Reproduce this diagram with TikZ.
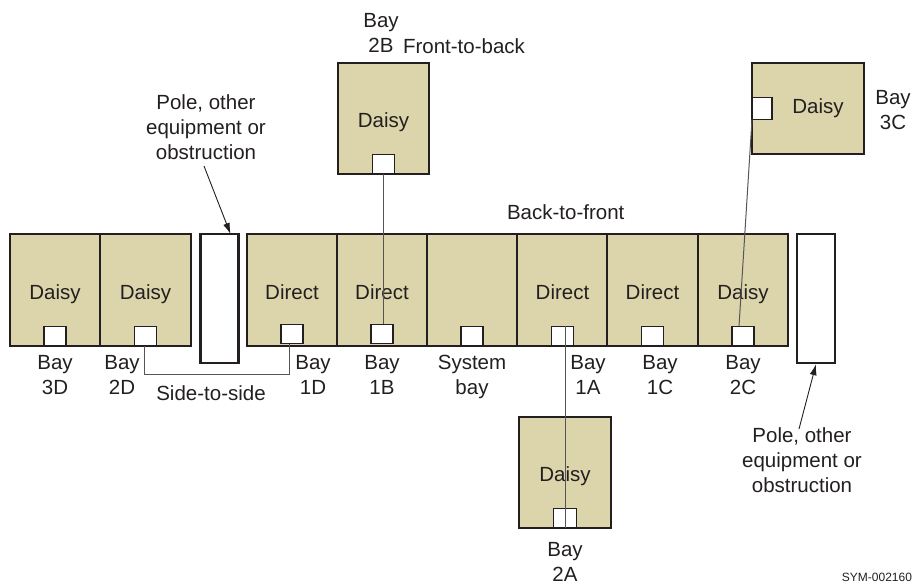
\documentclass[tikz,border=0pt]{standalone}
\usepackage{fontspec}
\setmainfont{Liberation Sans}
\usetikzlibrary{arrows.meta,calc}
\definecolor{bayfill}{RGB}{220,213,172}
\definecolor{edge}{RGB}{35,31,32}
\definecolor{linkgray}{RGB}{85,85,85}
\begin{document}
\begin{tikzpicture}[x=1pt,y=-1pt,
  every node/.style={inner sep=0pt, outer sep=0pt},
  txt/.style={font=\fontsize{20.5}{25}\selectfont, text=edge, align=center},
  bay/.style={draw=edge, line width=2pt, fill=bayfill, minimum width=90.5pt, minimum height=111.5pt,
    font=\fontsize{20.5}{25}\selectfont, text=edge, text height=18.8pt, text depth=0pt},
  port/.style={draw=edge, line width=1.3pt, fill=white, minimum width=22pt, minimum height=19.5pt},
  obst/.style={draw=edge, line width=2.4pt, fill=white, minimum width=38pt, minimum height=129pt},
  link/.style={draw=linkgray, line width=1pt},
  pointer/.style={draw=edge, line width=0.9pt, -{Latex[length=11pt,width=7pt]}}
]
\useasboundingbox (0,0) rectangle (913,584);

% main row of bays
\node[bay] (b3D) at (55,290) {Daisy};
\node[bay] (b2D) at (145.5,290) {Daisy};
\node[obst] (obsL) at (219.5,298.5) {};
\node[bay] (b1D) at (292,290) {Direct};
\node[bay] (b1B) at (382,290) {Direct};
\node[bay] (bSys) at (472,290) {};
\node[bay] (b1A) at (562.5,290) {Direct};
\node[bay] (b1C) at (652.5,290) {Direct};
\node[bay] (b2C) at (743,290) {Daisy};
\node[obst] (obsR) at (816,298.5) {};

% ports
\node[port, anchor=south] (p3D) at (b3D.south) {};
\node[port, anchor=south] (p2D) at (b2D.south) {};
\node[port, anchor=south, yshift=2pt] (p1D) at (b1D.south) {};
\node[port, anchor=south, yshift=2pt] (p1B) at (b1B.south) {};
\node[port, anchor=south] (pSys) at (bSys.south) {};
\node[port, anchor=south] (p1A) at (b1A.south) {};
\node[port, anchor=south] (p1C) at (b1C.south) {};
\node[port, anchor=south] (p2C) at (b2C.south) {};

% detached bays
\node[bay, minimum width=91pt, minimum height=111pt] (b2B) at (383.5,118.5) {Daisy};
\node[port, anchor=south] (p2B) at (b2B.south) {};
\node[bay, minimum width=112pt, minimum height=91pt] (b3C) at (808,108.5) {};
\node[txt] (t3C) at (818,108) {Daisy};
\node[port, minimum width=20pt, minimum height=22pt, anchor=west] (p3C) at (b3C.west) {};
\node[bay, minimum width=92pt, minimum height=111pt] (b2A) at (565,472.5) {Daisy};
\node[port, minimum width=23pt, anchor=south] (p2A) at (b2A.south) {};

% labels
\node[txt] (l3D) at (55,375) {Bay\\3D};
\node[txt] (l2D) at (122,375) {Bay\\2D};
\node[txt] (l1D) at (313,375) {Bay\\1D};
\node[txt] (l1B) at (382,375) {Bay\\1B};
\node[txt] (lSys) at (472,377) {System\\bay};
\node[txt] (l1A) at (588,375) {Bay\\1A};
\node[txt] (l1C) at (660,375) {Bay\\1C};
\node[txt] (l2C) at (743,375) {Bay\\2C};
\node[txt] (l2B) at (381,33) {Bay\\2B};
\node[txt, anchor=west] (fb) at (403,46) {Front-to-back};
\node[txt, anchor=west] (bf) at (507,212) {Back-to-front};
\node[txt] (ss) at (211,393) {Side-to-side};
\node[txt] (l3C) at (893,110) {Bay\\3C};
\node[txt] (l2A) at (565,561.5) {Bay\\2A};
\node[txt] (polL) at (206,127) {Pole, other\\equipment or\\obstruction};
\node[txt] (polR) at (802,460) {Pole, other\\equipment or\\obstruction};
\node[font=\fontsize{12}{14}\selectfont, text=edge, anchor=east] (sym) at (912,577) {SYM-002160};

% connectors
\draw[link] ([xshift=-1.5pt]p2D.south) -- ++(0,29) -| ([xshift=-3pt]p1D.south);
\draw[link] (p2B.south) -- (p2B.south |- p1B.north);
\draw[link] (p3C.south west) -- ([xshift=-4pt]p2C.north);
\draw[link] (p2A.south) -- (p2A.south |- p1A.north);

% pointers
\draw[pointer] ([xshift=-2pt,yshift=-6.5pt]polL.south) -- ([xshift=-8pt]obsL.north east);
\draw[pointer] ([xshift=-3pt,yshift=-1.5pt]polR.north) -- ([yshift=-1.2pt]obsR.south);
\end{tikzpicture}
\end{document}
